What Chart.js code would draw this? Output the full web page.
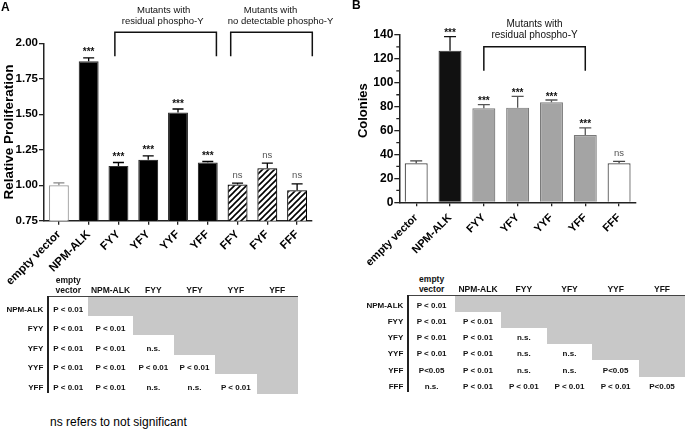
<!DOCTYPE html>
<html>
<head>
<meta charset="utf-8">
<script src="https://cdn.jsdelivr.net/npm/chart.js@4.4.0/dist/chart.umd.min.js"></script>
<style>
  body { margin: 0; background: #fff; font-family: "Liberation Sans", Arial, sans-serif; }
  #page { position: relative; width: 685px; height: 430px; overflow: hidden; background: #fff; }
  #page canvas { position: absolute; top: 0; }
  .cell { position: absolute; box-sizing: border-box; color: #111; }
  .letter { position: absolute; font-weight: bold; font-size: 12px; line-height: 14px; }
</style>
</head>
<body>
<div id="page">
  <canvas id="chartA" width="340" height="292" style="left:0"></canvas>
  <canvas id="chartB" width="345" height="266" style="left:340px"></canvas>
  <div class="letter" style="left:1px;top:0">A</div>
  <div class="letter" style="left:352px;top:-2px">B</div>
  <div class="cell" style="left:50px;top:415px;font-size:12px;line-height:15px;color:#000">ns refers to not significant</div>
</div>
<script>
// panel A: relative proliferation
const labelsA = ["empty vector", "NPM-ALK", "FYY", "YFY", "YYF", "YFF", "FFY", "FYF", "FFF"];
const meansA = [1.00, 1.873, 1.136, 1.179, 1.513, 1.160, 1.005, 1.120, 0.965];
const semA = [0.016, 0.024, 0.024, 0.028, 0.024, 0.007, 0.010, 0.035, 0.044];
const sigA = ["", "***", "***", "***", "***", "***", "ns", "ns", "ns"];
const groupsA = [
  ["FYY", "YFF", "Mutants with", "residual phospho-Y"],
  ["FFY", "FFF", "Mutants with", "no detectable phospho-Y"]
];

// panel B: colonies
const labelsB = ["empty vector", "NPM-ALK", "FYY", "YFY", "YYF", "YFF", "FFF"];
const meansB = [32.6, 126.9, 78.7, 79.2, 83.7, 56.3, 32.6];
const semB = [2.0, 11.7, 3.0, 9.5, 1.9, 5.9, 1.7];
const sigB = ["", "***", "***", "***", "***", "***", "ns"];
const groupsB = [
  ["FYY", "YFF", "Mutants with", "residual phospho-Y"]
];

// pairwise p-value tables
const tableColsA = ["empty\nvector", "NPM-ALK", "FYY", "YFY", "YYF", "YFF"];
const tableRowsA = ["NPM-ALK", "FYY", "YFY", "YYF", "YFF"];
const pValuesA = [
  ["P < 0.01"],
  ["P < 0.01", "P < 0.01"],
  ["P < 0.01", "P < 0.01", "n.s."],
  ["P < 0.01", "P < 0.01", "P < 0.01", "P < 0.01"],
  ["P < 0.01", "P < 0.01", "n.s.", "n.s.", "P < 0.01"]
];
const tableColsB = ["empty\nvector", "NPM-ALK", "FYY", "YFY", "YYF", "YFF"];
const tableRowsB = ["NPM-ALK", "FYY", "YFY", "YYF", "YFF", "FFF"];
const pValuesB = [
  ["P < 0.01"],
  ["P < 0.01", "P < 0.01"],
  ["P < 0.01", "P < 0.01", "n.s."],
  ["P < 0.01", "P < 0.01", "n.s.", "n.s."],
  ["P<0.05", "P < 0.01", "n.s.", "n.s.", "P<0.05"],
  ["n.s.", "P < 0.01", "P < 0.01", "P < 0.01", "P < 0.01", "P<0.05"]
];

const FONT = "'Liberation Sans', Arial, sans-serif";

function hatch() {
  const c = document.createElement("canvas");
  c.width = 6; c.height = 6;
  const g = c.getContext("2d");
  g.fillStyle = "#fff";
  g.fillRect(0, 0, 6, 6);
  g.strokeStyle = "#000";
  g.lineWidth = 1.6;
  g.beginPath();
  g.moveTo(-1, 7); g.lineTo(7, -1);
  g.moveTo(-1, 1); g.lineTo(1, -1);
  g.moveTo(5, 7); g.lineTo(7, 5);
  g.stroke();
  return g.createPattern(c, "repeat");
}

// error bars, significance marks, group brackets
function annotations(labels, means, sem, sig, groups, g) {
  return {
    id: "annotations",
    afterDatasetsDraw(chart) {
      const ctx = chart.ctx;
      const xs = chart.scales.x, ys = chart.scales.y;
      const bars = chart.getDatasetMeta(0).data;
      ctx.save();
      bars.forEach((bar, i) => {
        const top = ys.getPixelForValue(means[i] + sem[i]);
        ctx.strokeStyle = g.errColors[i];
        ctx.lineWidth = 1.3;
        ctx.beginPath();
        ctx.moveTo(bar.x, bar.y);
        ctx.lineTo(bar.x, top);
        ctx.moveTo(bar.x - g.cap, top);
        ctx.lineTo(bar.x + g.cap, top);
        ctx.stroke();
        if (sig[i]) {
          const stars = sig[i] === "***";
          ctx.fillStyle = stars ? "#111" : "#555";
          ctx.font = stars ? "bold 10px " + FONT : "9.5px " + FONT;
          ctx.textAlign = "center";
          ctx.textBaseline = "alphabetic";
          ctx.fillText(sig[i], bar.x, top - (stars ? g.starLift : g.nsLift));
        }
      });

      const area = chart.chartArea;
      groups.forEach((gr, k) => {
        const x1 = xs.getPixelForValue(labels.indexOf(gr[0]) + g.bracketPad[k][0]);
        const x2 = xs.getPixelForValue(labels.indexOf(gr[1]) + g.bracketPad[k][1]);
        const yTop = area.top + g.bracketTop, yBot = area.top + g.bracketBottom;
        ctx.strokeStyle = "#111";
        ctx.lineWidth = 1.5;
        ctx.beginPath();
        ctx.moveTo(x1, yBot); ctx.lineTo(x1, yTop); ctx.lineTo(x2, yTop); ctx.lineTo(x2, yBot);
        ctx.stroke();
        ctx.fillStyle = "#111";
        ctx.font = g.groupFont + " " + FONT;
        ctx.textAlign = "center";
        ctx.textBaseline = "middle";
        const cx = (x1 + x2) / 2;
        ctx.fillText(gr[2], cx + g.textShift[k][0], g.textY[0]);
        ctx.fillText(gr[3], cx + g.textShift[k][1], g.textY[1]);
      });

      if (g.minor) {
        ctx.strokeStyle = "#222";
        ctx.lineWidth = 1.3;
        ctx.beginPath();
        for (let v = g.minor; v < ys.max; v += 2 * g.minor) {
          const py = ys.getPixelForValue(v);
          ctx.moveTo(area.left - 3, py);
          ctx.lineTo(area.left, py);
        }
        ctx.stroke();
      }

      ctx.fillStyle = "#000";
      ctx.font = g.titleFont + " " + FONT;
      ctx.textAlign = "center";
      ctx.textBaseline = "middle";
      ctx.translate(g.titleX, (area.top + area.bottom) / 2 + g.titleShift);
      ctx.rotate(-Math.PI / 2);
      ctx.fillText(g.title, 0, 0);
      ctx.restore();
    }
  };
}

function barChart(id, labels, means, fills, edges, yOpts, area, tickFont, plugin) {
  return new Chart(document.getElementById(id), {
    type: "bar",
    data: {
      labels: labels,
      datasets: [{
        data: means,
        backgroundColor: fills,
        borderColor: edges,
        borderWidth: 1.2,
        barPercentage: area.barPct,
        categoryPercentage: 1
      }]
    },
    options: {
      responsive: false,
      animation: false,
      devicePixelRatio: 1,
      layout: { padding: { top: area.top, right: area.right, left: 0, bottom: 0 } },
      plugins: { legend: { display: false }, tooltip: { enabled: false } },
      scales: {
        x: {
          grid: { drawOnChartArea: false, offset: false, tickLength: 4, color: "#222", lineWidth: 1.3 },
          border: { color: "#222", width: 1.5 },
          ticks: { autoSkip: false, minRotation: 45, maxRotation: 45, padding: area.labelPad, color: "#000",
                   font: { family: FONT, size: tickFont, weight: "bold" } },
          afterFit(s) { s.height = area.h - area.bottom; }
        },
        y: Object.assign({
          grid: { drawOnChartArea: false, tickLength: 5, color: "#222", lineWidth: 1.3 },
          border: { color: "#222", width: 1.5 },
          afterFit(s) { s.width = area.left; }
        }, yOpts)
      }
    },
    plugins: [plugin]
  });
}

const pattern = hatch();
const fillsA = ["#fff", "#000", "#000", "#000", "#000", "#000", pattern, pattern, pattern];
const edgesA = ["#999", "#333", "#333", "#333", "#333", "#333", "#000", "#000", "#000"];
const fillsB = ["#fff", "#111", "#a4a4a4", "#a4a4a4", "#a4a4a4", "#a4a4a4", "#fff"];
const edgesB = ["#444", "#333", "#7a7a7a", "#7a7a7a", "#7a7a7a", "#7a7a7a", "#444"];

barChart("chartA", labelsA, meansA, fillsA, edgesA, {
  min: 0.75, max: 2.0,
  ticks: { stepSize: 0.25, padding: 1, color: "#000", callback: v => v.toFixed(2),
           font: { family: FONT, size: 11.5, weight: "bold" } }
}, { left: 44, right: 28, top: 43.3, bottom: 220.7, h: 292, barPct: 0.67, labelPad: 3 }, 11.5,
annotations(labelsA, meansA, semA, sigA, groupsA, {
  errColors: ["#888", "#000", "#000", "#000", "#000", "#000", "#000", "#000", "#000"],
  cap: 5.5, starLift: 2.5, nsLift: 5.5,
  bracketPad: [[-0.12, 0.29], [-0.23, 0.51]], bracketTop: -11, bracketBottom: 13,
  textShift: [[-2, -3], [-1, 9]], textY: [10, 21.7], groupFont: "9.5px",
  title: "Relative Proliferation", titleFont: "bold 13.5px", titleX: 9, titleShift: 0
}));

barChart("chartB", labelsB, meansB, fillsB, edgesB, {
  min: 0, max: 140,
  ticks: { stepSize: 20, padding: 1, color: "#000",
           font: { family: FONT, size: 12, weight: "bold" } }
}, { left: 59.3, right: 49, top: 35, bottom: 202.3, h: 266, barPct: 0.68, labelPad: 5 }, 11,
annotations(labelsB, meansB, semB, sigB, groupsB, {
  errColors: ["#444", "#111", "#555", "#555", "#555", "#555", "#444"],
  cap: 6, starLift: 0.5, nsLift: 5.5, minor: 10,
  bracketPad: [[0, 0]], bracketTop: 11.7, bracketBottom: 35.7,
  textShift: [[0, 0]], textY: [24, 35.7], groupFont: "10px",
  title: "Colonies", titleFont: "bold 13px", titleX: 23.3, titleShift: -8
}));

// staircase tables of pairwise comparisons
function buildTable(cols, rows, cells, t) {
  const page = document.getElementById("page");
  const add = (css, text) => {
    const d = document.createElement("div");
    d.className = "cell";
    Object.assign(d.style, css);
    if (text) d.textContent = text;
    page.appendChild(d);
    return d;
  };
  const e = t.edges;
  const right = e[e.length - 1];
  const bottom = t.lineY + rows.length * t.rowH;

  cells.forEach((row, i) => {
    if (row.length < cols.length) {
      add({ left: e[row.length] + "px", top: (t.lineY + i * t.rowH) + "px",
            width: (right - e[row.length]) + "px", height: (t.rowH + 0.6) + "px", background: "#c8c8c8" });
    }
  });

  cols.forEach((c, j) => {
    const d = add({ left: e[j] + "px", top: (t.lineY - 24) + "px", width: (e[j + 1] - e[j]) + "px",
                    height: "23px", display: "flex", alignItems: "flex-end", justifyContent: "center",
                    textAlign: "center", whiteSpace: "pre-line", font: "bold 8.5px " + FONT, lineHeight: "10px" });
    d.textContent = c;
  });

  rows.forEach((r, i) => {
    const ty = t.lineY + (i + 1) * t.rowH - t.textUp - 6;
    add({ left: (e[0] - 60) + "px", top: ty + "px", width: "55px", height: "12px", lineHeight: "12px",
          textAlign: "right", font: "bold 8px " + FONT }, r);
    cells[i].forEach((v, j) => {
      add({ left: e[j] + "px", top: ty + "px", width: (e[j + 1] - e[j]) + "px", height: "12px",
            lineHeight: "12px", textAlign: "center", font: "bold 8px " + FONT }, v);
    });
  });

  add({ left: e[0] + "px", top: (t.lineY - 0.5) + "px", width: (right - e[0]) + "px", height: "1px", background: "#444" });
  add({ left: (e[0] - 1) + "px", top: t.lineY + "px", width: "2px", height: (bottom - t.lineY) + "px", background: "#222" });
}

buildTable(tableColsA, tableRowsA, pValuesA,
  { edges: [48.3, 88.3, 132.7, 174, 215, 256.7, 297.7], lineY: 296, rowH: 19.45, textUp: 4.5 });
buildTable(tableColsB, tableRowsB, pValuesB,
  { edges: [408.3, 455, 501, 546.7, 592.3, 639, 685], lineY: 295, rowH: 16.2, textUp: 4.5 });
</script>
</body>
</html>
